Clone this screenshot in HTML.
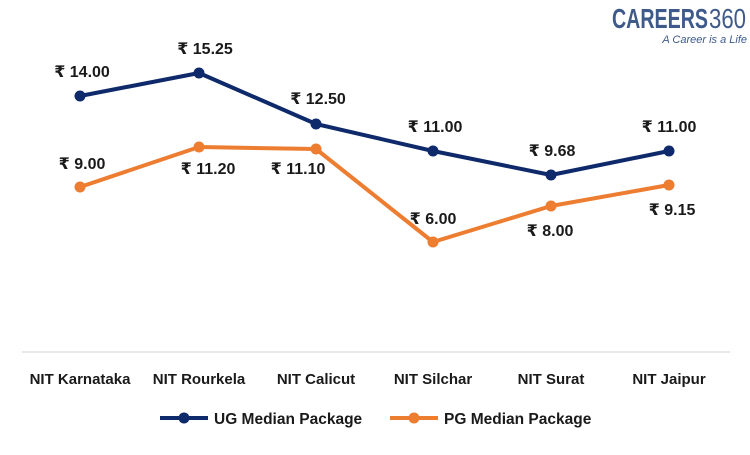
<!DOCTYPE html>
<html><head><meta charset="utf-8"><style>
body{margin:0;background:#fff;}
svg text{font-family:"Liberation Sans","DejaVu Sans",sans-serif;font-weight:bold;fill:#1a1a1a;}
</style></head><body>
<svg width="750" height="450" xmlns="http://www.w3.org/2000/svg">
<rect width="750" height="450" fill="#fff"/>
<text x="612" y="28" textLength="96" lengthAdjust="spacingAndGlyphs" style="font-size:28px;fill:#3e5a8a;font-weight:bold">CAREERS</text>
<text x="709" y="28" textLength="37" lengthAdjust="spacingAndGlyphs" style="font-size:28px;fill:#3e5a8a;font-weight:normal">360</text>
<text x="747" y="43" text-anchor="end" style="font-size:11px;font-style:italic;font-weight:normal;fill:#3e5a8a">A Career is a Life</text>
<line x1="22" y1="352" x2="730" y2="352" stroke="#d0d0d0" stroke-width="1"/>
<polyline points="80,96 199,73 316,124 433,151 551,175 669,151" fill="none" stroke="#0e2a6b" stroke-width="4" stroke-linejoin="round"/>
<polyline points="80,187 199,147 316,149 433,242 551,206 669,185" fill="none" stroke="#ed7d31" stroke-width="4" stroke-linejoin="round"/>
<g fill="#0e2a6b"><circle cx="80" cy="96" r="5.5"/><circle cx="199" cy="73" r="5.5"/><circle cx="316" cy="124" r="5.5"/><circle cx="433" cy="151" r="5.5"/><circle cx="551" cy="175" r="5.5"/><circle cx="669" cy="151" r="5.5"/></g>
<g fill="#ed7d31"><circle cx="80" cy="187" r="5.5"/><circle cx="199" cy="147" r="5.5"/><circle cx="316" cy="149" r="5.5"/><circle cx="433" cy="242" r="5.5"/><circle cx="551" cy="206" r="5.5"/><circle cx="669" cy="185" r="5.5"/></g>
<g style="font-size:16px" text-anchor="middle">
<text x="82" y="77">₹ 14.00</text>
<text x="205" y="54">₹ 15.25</text>
<text x="318" y="104">₹ 12.50</text>
<text x="435" y="132">₹ 11.00</text>
<text x="552" y="156">₹ 9.68</text>
<text x="669" y="132">₹ 11.00</text>
<text x="82" y="169">₹ 9.00</text>
<text x="208" y="174">₹ 11.20</text>
<text x="298" y="174">₹ 11.10</text>
<text x="433" y="224">₹ 6.00</text>
<text x="550" y="236">₹ 8.00</text>
<text x="672" y="215">₹ 9.15</text>
</g>
<g style="font-size:15px" text-anchor="middle">
<text x="80" y="384">NIT Karnataka</text>
<text x="199" y="384">NIT Rourkela</text>
<text x="316" y="384">NIT Calicut</text>
<text x="433" y="384">NIT Silchar</text>
<text x="551" y="384">NIT Surat</text>
<text x="669" y="384">NIT Jaipur</text>
</g>
<line x1="160" y1="418" x2="208" y2="418" stroke="#0e2a6b" stroke-width="4"/>
<circle cx="184" cy="418" r="5.5" fill="#0e2a6b"/>
<text x="214" y="424" style="font-size:15.5px">UG Median Package</text>
<line x1="390" y1="418" x2="438" y2="418" stroke="#ed7d31" stroke-width="4"/>
<circle cx="414" cy="418" r="5.5" fill="#ed7d31"/>
<text x="444" y="424" style="font-size:15.5px">PG Median Package</text>
</svg>
</body></html>
